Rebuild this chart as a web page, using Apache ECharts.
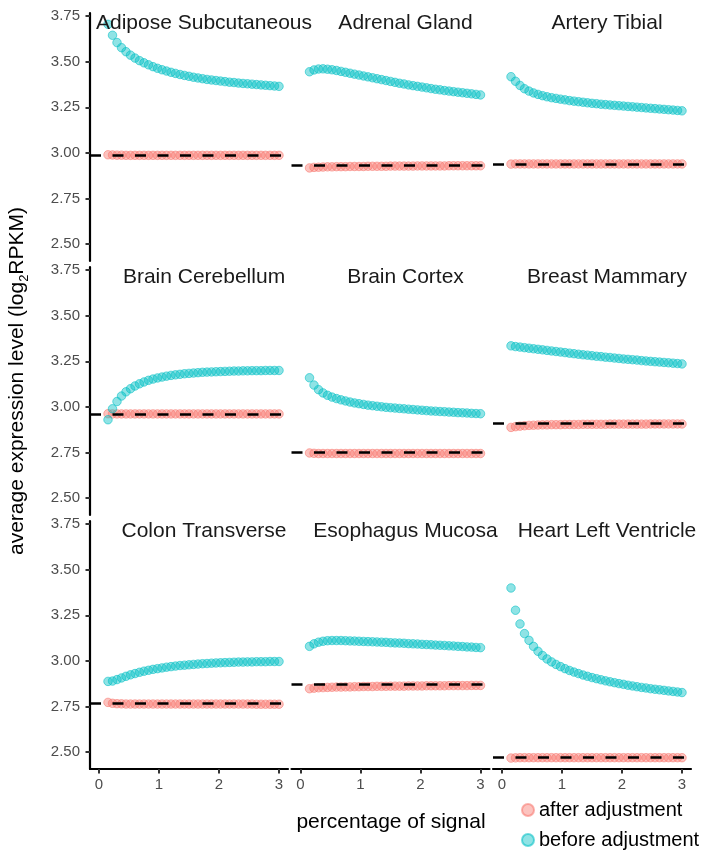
<!DOCTYPE html>
<html>
<head>
<meta charset="utf-8">
<script src="https://cdn.jsdelivr.net/npm/echarts@6/dist/echarts.min.js"></script>
<style>
  html, body { margin: 0; padding: 0; background: #ffffff; }
  #chart { width: 715px; height: 853px; }
</style>
</head>
<body>
<div id="chart"></div>
<script>
// Signal percentage at which each average was computed
const signalPct = [0.15, 0.225, 0.3, 0.375, 0.45, 0.525, 0.6, 0.675, 0.75, 0.825,
  0.9, 0.975, 1.05, 1.125, 1.2, 1.275, 1.35, 1.425, 1.5, 1.575,
  1.65, 1.725, 1.8, 1.875, 1.95, 2.025, 2.1, 2.175, 2.25, 2.325,
  2.4, 2.475, 2.55, 2.625, 2.7, 2.775, 2.85, 2.925, 3.0];

const tissues = ['Adipose Subcutaneous', 'Adrenal Gland', 'Artery Tibial',
  'Brain Cerebellum', 'Brain Cortex', 'Breast Mammary',
  'Colon Transverse', 'Esophagus Mucosa', 'Heart Left Ventricle'];

// Reference (true) mean expression for each tissue, drawn as dashed lines
const meanLevels = [2.987, 2.930, 2.940, 2.961, 2.745, 2.906, 2.771, 2.873, 2.470];

const xTicks = [0, 1, 2, 3];
const yTicks = [2.5, 2.75, 3.0, 3.25, 3.5, 3.75];

// Average expression before adjustment
const adiposeBefore = [3.705, 3.645, 3.605, 3.577, 3.555, 3.536, 3.520, 3.506, 3.494, 3.483,
  3.473, 3.464, 3.456, 3.449, 3.442, 3.436, 3.430, 3.425, 3.420, 3.415,
  3.411, 3.407, 3.403, 3.400, 3.397, 3.394, 3.391, 3.388, 3.386, 3.383,
  3.381, 3.379, 3.377, 3.375, 3.373, 3.371, 3.369, 3.367, 3.365];
const adrenalBefore = [3.445, 3.455, 3.460, 3.461, 3.459, 3.456, 3.452, 3.447, 3.442, 3.437,
  3.432, 3.427, 3.422, 3.417, 3.412, 3.407, 3.402, 3.397, 3.392, 3.387,
  3.382, 3.378, 3.373, 3.369, 3.365, 3.361, 3.357, 3.353, 3.349, 3.346,
  3.342, 3.339, 3.336, 3.333, 3.330, 3.327, 3.324, 3.321, 3.318];
const arteryBefore = [3.418, 3.393, 3.370, 3.352, 3.339, 3.329, 3.321, 3.314, 3.308, 3.303,
  3.299, 3.295, 3.291, 3.287, 3.284, 3.281, 3.278, 3.275, 3.272, 3.270,
  3.267, 3.265, 3.263, 3.261, 3.259, 3.257, 3.255, 3.253, 3.251, 3.249,
  3.247, 3.245, 3.243, 3.241, 3.239, 3.237, 3.235, 3.233, 3.231];
const cerebellumBefore = [2.930, 2.990, 3.030, 3.060, 3.083, 3.100, 3.115, 3.127, 3.137, 3.146,
  3.153, 3.159, 3.164, 3.169, 3.173, 3.176, 3.179, 3.182, 3.184, 3.186,
  3.188, 3.190, 3.191, 3.192, 3.193, 3.194, 3.195, 3.196, 3.197, 3.197,
  3.198, 3.198, 3.199, 3.199, 3.199, 3.200, 3.200, 3.200, 3.200];
const cortexBefore = [3.160, 3.120, 3.095, 3.077, 3.064, 3.054, 3.046, 3.039, 3.033, 3.027,
  3.022, 3.018, 3.014, 3.010, 3.007, 3.004, 3.001, 2.998, 2.996, 2.994,
  2.992, 2.990, 2.988, 2.986, 2.984, 2.982, 2.980, 2.978, 2.977, 2.975,
  2.974, 2.972, 2.971, 2.969, 2.968, 2.967, 2.965, 2.964, 2.963];
const breastBefore = [3.335, 3.331, 3.328, 3.325, 3.322, 3.319, 3.316, 3.313, 3.310, 3.307,
  3.304, 3.301, 3.298, 3.295, 3.292, 3.289, 3.286, 3.284, 3.281, 3.278,
  3.276, 3.273, 3.271, 3.268, 3.266, 3.263, 3.261, 3.259, 3.257, 3.254,
  3.252, 3.250, 3.248, 3.246, 3.244, 3.242, 3.240, 3.238, 3.236];
const colonBefore = [2.888, 2.890, 2.898, 2.907, 2.916, 2.924, 2.931, 2.938, 2.944, 2.949,
  2.954, 2.958, 2.962, 2.966, 2.969, 2.972, 2.975, 2.977, 2.979, 2.981,
  2.983, 2.985, 2.986, 2.988, 2.989, 2.990, 2.991, 2.992, 2.993, 2.994,
  2.994, 2.995, 2.995, 2.996, 2.996, 2.996, 2.997, 2.997, 2.997];
const esophagusBefore = [3.080, 3.094, 3.103, 3.108, 3.111, 3.112, 3.112, 3.112, 3.111, 3.110,
  3.109, 3.108, 3.107, 3.106, 3.105, 3.104, 3.103, 3.102, 3.100, 3.099,
  3.098, 3.097, 3.095, 3.094, 3.093, 3.091, 3.090, 3.089, 3.087, 3.086,
  3.085, 3.083, 3.082, 3.080, 3.079, 3.077, 3.076, 3.074, 3.073];
const heartBefore = [3.400, 3.278, 3.203, 3.150, 3.113, 3.080, 3.053, 3.030, 3.011, 2.995,
  2.981, 2.969, 2.958, 2.948, 2.939, 2.931, 2.923, 2.916, 2.909, 2.903,
  2.897, 2.891, 2.886, 2.881, 2.876, 2.872, 2.867, 2.863, 2.859, 2.855,
  2.852, 2.848, 2.845, 2.842, 2.839, 2.836, 2.833, 2.830, 2.827];

// Average expression after adjustment
const adiposeAfter = [2.990, 2.989, 2.988, 2.988, 2.987, 2.987, 2.987, 2.987, 2.987, 2.987,
  2.987, 2.987, 2.987, 2.987, 2.987, 2.987, 2.987, 2.987, 2.987, 2.987,
  2.987, 2.987, 2.987, 2.987, 2.987, 2.987, 2.987, 2.987, 2.987, 2.987,
  2.987, 2.987, 2.987, 2.987, 2.987, 2.987, 2.987, 2.987, 2.987];
const adrenalAfter = [2.918, 2.921, 2.922, 2.923, 2.924, 2.924, 2.925, 2.925, 2.925, 2.926,
  2.926, 2.926, 2.926, 2.927, 2.927, 2.927, 2.927, 2.927, 2.928, 2.928,
  2.928, 2.928, 2.928, 2.928, 2.929, 2.929, 2.929, 2.929, 2.929, 2.929,
  2.929, 2.930, 2.930, 2.930, 2.930, 2.930, 2.930, 2.930, 2.930];
const arteryAfter = [2.939, 2.940, 2.940, 2.940, 2.940, 2.940, 2.940, 2.940, 2.940, 2.940,
  2.940, 2.940, 2.940, 2.940, 2.940, 2.940, 2.940, 2.940, 2.940, 2.940,
  2.940, 2.940, 2.940, 2.940, 2.940, 2.940, 2.940, 2.940, 2.940, 2.940,
  2.940, 2.940, 2.940, 2.940, 2.940, 2.940, 2.940, 2.940, 2.940];
const cerebellumAfter = [2.963, 2.962, 2.962, 2.962, 2.962, 2.962, 2.962, 2.962, 2.962, 2.962,
  2.962, 2.962, 2.962, 2.962, 2.962, 2.962, 2.962, 2.962, 2.962, 2.962,
  2.962, 2.962, 2.962, 2.962, 2.962, 2.962, 2.962, 2.962, 2.962, 2.962,
  2.962, 2.962, 2.962, 2.962, 2.962, 2.962, 2.962, 2.962, 2.962];
const cortexAfter = [2.748, 2.746, 2.745, 2.745, 2.745, 2.745, 2.745, 2.745, 2.745, 2.745,
  2.745, 2.745, 2.745, 2.745, 2.745, 2.745, 2.745, 2.745, 2.745, 2.745,
  2.745, 2.745, 2.745, 2.745, 2.745, 2.745, 2.745, 2.745, 2.745, 2.745,
  2.745, 2.745, 2.745, 2.745, 2.745, 2.745, 2.745, 2.745, 2.745];
const breastAfter = [2.888, 2.892, 2.895, 2.897, 2.899, 2.900, 2.901, 2.902, 2.902, 2.903,
  2.903, 2.903, 2.904, 2.904, 2.904, 2.904, 2.905, 2.905, 2.905, 2.905,
  2.905, 2.905, 2.906, 2.906, 2.906, 2.906, 2.906, 2.906, 2.906, 2.906,
  2.906, 2.907, 2.907, 2.907, 2.907, 2.907, 2.907, 2.907, 2.907];
const colonAfter = [2.773, 2.768, 2.766, 2.765, 2.764, 2.764, 2.764, 2.764, 2.764, 2.764,
  2.764, 2.764, 2.764, 2.764, 2.764, 2.764, 2.764, 2.764, 2.764, 2.764,
  2.764, 2.764, 2.764, 2.764, 2.764, 2.764, 2.764, 2.764, 2.764, 2.764,
  2.764, 2.764, 2.764, 2.763, 2.763, 2.763, 2.763, 2.763, 2.763];
const esophagusAfter = [2.848, 2.851, 2.853, 2.854, 2.855, 2.856, 2.857, 2.857, 2.858, 2.858,
  2.859, 2.859, 2.860, 2.860, 2.860, 2.861, 2.861, 2.861, 2.862, 2.862,
  2.862, 2.862, 2.863, 2.863, 2.863, 2.863, 2.864, 2.864, 2.864, 2.864,
  2.864, 2.865, 2.865, 2.865, 2.865, 2.865, 2.866, 2.866, 2.866];
const heartAfter = [2.468, 2.469, 2.470, 2.470, 2.470, 2.470, 2.470, 2.470, 2.470, 2.470,
  2.470, 2.470, 2.470, 2.470, 2.470, 2.470, 2.470, 2.470, 2.470, 2.470,
  2.470, 2.470, 2.470, 2.470, 2.470, 2.470, 2.470, 2.470, 2.470, 2.470,
  2.470, 2.470, 2.470, 2.470, 2.470, 2.470, 2.470, 2.470, 2.470];

const beforeSeries = [adiposeBefore, adrenalBefore, arteryBefore, cerebellumBefore, cortexBefore,
  breastBefore, colonBefore, esophagusBefore, heartBefore];
const afterSeries = [adiposeAfter, adrenalAfter, arteryAfter, cerebellumAfter, cortexAfter,
  breastAfter, colonAfter, esophagusAfter, heartAfter];

const FONT = '"Liberation Sans", Arial, Helvetica, sans-serif';
const AFTER_NAME = 'after adjustment';
const BEFORE_NAME = 'before adjustment';

// Facet layout (3 x 3 panels)
const colLeft = [90, 291.5, 493];
const rowTop = [13, 267, 521];
const panelW = 198;
const panelH = 248;
const xMin = -0.15, xMax = 3.15;
const yMin = 2.408, yMax = 3.767;
const stripX = 1.75; // facet label anchor on the x scale

const grids = [], xAxes = [], yAxes = [], series = [], graphics = [];

tissues.forEach(function (name, i) {
  const r = Math.floor(i / 3), c = i % 3;
  const bottomRow = r === 2, leftCol = c === 0;
  grids.push({ left: colLeft[c], top: rowTop[r], width: panelW, height: panelH });

  xAxes.push({
    type: 'value', gridIndex: i, min: xMin, max: xMax,
    splitLine: { show: false },
    axisLine: { show: bottomRow, onZero: false, lineStyle: { color: '#000', width: 2.2 } },
    axisTick: { show: bottomRow, customValues: xTicks, length: 4.5, lineStyle: { color: '#333', width: 2 } },
    axisLabel: { show: bottomRow, customValues: xTicks, color: '#4d4d4d', fontSize: 15,
      fontFamily: FONT, margin: 8 }
  });
  yAxes.push({
    type: 'value', gridIndex: i, min: yMin, max: yMax,
    splitLine: { show: false },
    axisLine: { show: leftCol, onZero: false, lineStyle: { color: '#000', width: 2.2 } },
    axisTick: { show: leftCol, customValues: yTicks, length: 4.5, lineStyle: { color: '#333', width: 2 } },
    axisLabel: { show: leftCol, customValues: yTicks, color: '#4d4d4d', fontSize: 15,
      fontFamily: FONT, margin: 10, formatter: function (v) { return v.toFixed(2); } }
  });

  series.push({
    name: AFTER_NAME, type: 'scatter', xAxisIndex: i, yAxisIndex: i,
    symbol: 'circle', symbolSize: 8.5,
    itemStyle: { color: 'rgba(248,118,109,0.55)', borderColor: 'rgba(248,118,109,0.7)', borderWidth: 1 },
    data: signalPct.map(function (x, k) { return [x, afterSeries[i][k]]; }),
    markLine: {
      silent: true, symbol: 'none', animation: false,
      label: { show: false },
      lineStyle: { color: '#000', width: 2.5, type: [11, 11.5], opacity: 1 },
      emphasis: { disabled: true },
      data: [{ yAxis: meanLevels[i] }]
    }
  });
  series.push({
    name: BEFORE_NAME, type: 'scatter', xAxisIndex: i, yAxisIndex: i,
    symbol: 'circle', symbolSize: 8.5,
    itemStyle: { color: 'rgba(0,191,196,0.55)', borderColor: 'rgba(0,191,196,0.7)', borderWidth: 1 },
    data: signalPct.map(function (x, k) { return [x, beforeSeries[i][k]]; })
  });

  graphics.push({
    type: 'text', z: 100,
    x: colLeft[c] + (stripX - xMin) / (xMax - xMin) * panelW,
    y: rowTop[r] + 10,
    style: { text: name, font: '21px ' + FONT, fill: '#1a1a1a', align: 'center', verticalAlign: 'middle' }
  });
});

// Axis titles
graphics.push({
  type: 'text', z: 100, x: 391, y: 822,
  style: { text: 'percentage of signal', font: '21px ' + FONT, fill: '#000', align: 'center', verticalAlign: 'middle' }
});
graphics.push({
  type: 'text', z: 100, x: 17, y: 381, rotation: Math.PI / 2,
  style: {
    text: 'average expression level (log{sub|2}RPKM)',
    font: '21px ' + FONT, fill: '#000', align: 'center', verticalAlign: 'middle',
    lineHeight: 28,
    rich: { sub: { fontSize: 13, fontFamily: FONT, fill: '#000', verticalAlign: 'bottom', lineHeight: 14 } }
  }
});

const chart = echarts.init(document.getElementById('chart'), null, { renderer: 'canvas' });
chart.setOption({
  backgroundColor: '#ffffff',
  animation: false,
  textStyle: { fontFamily: FONT },
  grid: grids,
  xAxis: xAxes,
  yAxis: yAxes,
  series: series,
  graphic: graphics,
  legend: {
    data: [AFTER_NAME, BEFORE_NAME],
    orient: 'vertical', left: 521, top: 800, height: 53, padding: 0,
    icon: 'circle', itemWidth: 12, itemHeight: 12, itemGap: 10,
    textStyle: { fontSize: 20, lineHeight: 20, color: '#000', fontFamily: FONT },
    selectedMode: false
  }
});
</script>
</body>
</html>
